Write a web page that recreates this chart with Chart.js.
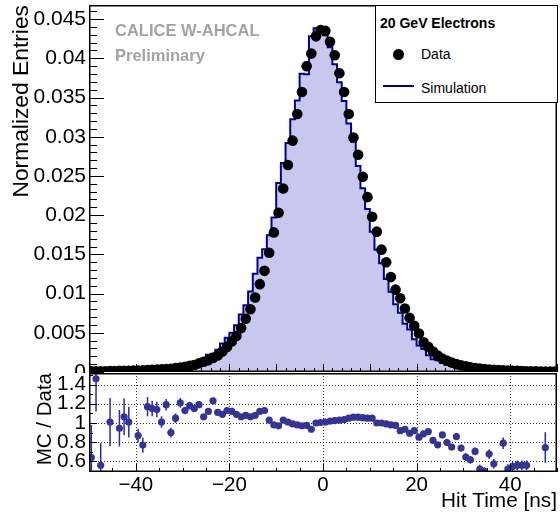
<!DOCTYPE html>
<html><head><meta charset="utf-8">
<script src="https://cdn.jsdelivr.net/npm/chart.js@4.4.1/dist/chart.umd.min.js"></script>
<style>
html,body{margin:0;padding:0;background:#fff;overflow:hidden}
#wrap{position:relative;width:560px;height:518px;font-family:"Liberation Sans",Arial,Helvetica,sans-serif;}
canvas{position:absolute;left:0;display:block}
#cTop{top:0}
#cBot{top:373px;background:#fff}
.t{position:absolute;white-space:nowrap;line-height:1}
#legend{position:absolute;left:375px;top:5px;width:183px;height:98px;box-sizing:border-box;border:1px solid #000;background:#fff}
</style></head><body>
<div id="wrap">
 <canvas id="cTop" width="560" height="373"></canvas>
 <canvas id="cBot" width="560" height="145"></canvas>
 <div class="t" style="left:115px;top:22px;font-size:16.5px;font-weight:bold;color:#a3a3a3">CALICE W-AHCAL</div>
 <div class="t" style="left:115px;top:47px;font-size:16.5px;font-weight:bold;color:#a3a3a3">Preliminary</div>
 <div id="legend">
  <div class="t" style="left:4px;top:9.5px;font-size:14px;font-weight:bold">20 GeV Electrons</div>
  <div style="position:absolute;left:17px;top:43px;width:10.5px;height:10.5px;border-radius:50%;background:#000"></div>
  <div class="t" id="lgData" style="left:45px;top:41px;font-size:14px">Data</div>
  <div style="position:absolute;left:7px;top:79px;width:31px;height:2px;background:#000099"></div>
  <div class="t" id="lgSim" style="left:45px;top:74.5px;font-size:14px">Simulation</div>
 </div>
</div>
<script>
Chart.defaults.font.family = '"Liberation Sans", Arial, Helvetica, sans-serif';
Chart.defaults.color = '#000';

// ---- data ----
const timeCenters = [-49.5,-48.5,-47.5,-46.5,-45.5,-44.5,-43.5,-42.5,-41.5,-40.5,
 -39.5,-38.5,-37.5,-36.5,-35.5,-34.5,-33.5,-32.5,-31.5,-30.5,
 -29.5,-28.5,-27.5,-26.5,-25.5,-24.5,-23.5,-22.5,-21.5,-20.5,
 -19.5,-18.5,-17.5,-16.5,-15.5,-14.5,-13.5,-12.5,-11.5,-10.5,
 -9.5,-8.5,-7.5,-6.5,-5.5,-4.5,-3.5,-2.5,-1.5,-0.5,
 0.5,1.5,2.5,3.5,4.5,5.5,6.5,7.5,8.5,9.5,
 10.5,11.5,12.5,13.5,14.5,15.5,16.5,17.5,18.5,19.5,
 20.5,21.5,22.5,23.5,24.5,25.5,26.5,27.5,28.5,29.5,
 30.5,31.5,32.5,33.5,34.5,35.5,36.5,37.5,38.5,39.5,
 40.5,41.5,42.5,43.5,44.5,45.5,46.5,47.5,48.5,49.5];
const binWidth = 1;

const dataEntries = [0.00008,0.00008,0.00009,0.0001,0.00011,0.00012,0.00014,0.00015,0.00016,0.00018,
 0.0002,0.00022,0.00025,0.00028,0.0003,0.00034,0.00038,0.00042,0.0005,0.00056,
 0.00065,0.00078,0.0009,0.0011,0.0013,0.0015,0.0018,0.0021,0.0026,0.0032,
 0.0039,0.0046,0.0056,0.0068,0.008,0.0095,0.0112,0.0129,0.0152,0.0178,
 0.0203,0.0234,0.0264,0.0295,0.0329,0.0357,0.039,0.0406,0.0428,0.0436,
 0.0435,0.0421,0.0404,0.0381,0.0357,0.0329,0.0299,0.0277,0.0249,0.0223,
 0.0198,0.0179,0.0156,0.014,0.0121,0.0105,0.0094,0.0081,0.0069,0.0059,
 0.0049,0.0038,0.0032,0.0026,0.0021,0.0017,0.00145,0.0012,0.001,0.00085,
 0.00072,0.0006,0.0005,0.00043,0.00037,0.00032,0.00028,0.00024,0.00021,0.00018,
 0.00016,0.00014,0.00012,0.0001,0.00009,0.00008,0.00007,0.00006,0.00005,0.00005];

const simEntries = [0.00005,0.00012,0.00005,0.00009,0.00011,0.00012,0.00013,0.00016,0.00016,0.00018,
 0.00017,0.00017,0.00029,0.00032,0.00034,0.00034,0.00045,0.00038,0.00053,0.00068,
 0.00073,0.00092,0.00104,0.00131,0.00138,0.00168,0.00221,0.00233,0.00283,0.00362,
 0.00437,0.00501,0.00596,0.00734,0.00852,0.01026,0.01254,0.01458,0.01566,0.01744,
 0.01969,0.0241,0.02666,0.0292,0.03224,0.03463,0.03803,0.03796,0.0428,0.04382,
 0.04394,0.04294,0.04141,0.03924,0.03695,0.03455,0.03169,0.02936,0.02627,0.02342,
 0.02079,0.0179,0.0156,0.01386,0.01186,0.01024,0.00865,0.00757,0.00616,0.00543,
 0.00417,0.00337,0.00292,0.00213,0.00162,0.00149,0.00116,0.0009,0.00086,0.00063,
 0.00046,0.00037,0.00035,0.00022,0.00018,0.00022,0.00016,0.00012,0.00017,0.00009,
 0.00009,0.00008,0.00007,0.00006,0.00004,0.00004,0.00003,0.00004,0.00003,0.00003];

const ratioValues = [0.64,1.46,0.56,null,1.01,null,0.945,1.065,1.01,null,
 0.87,0.77,1.17,1.15,1.14,1.01,1.19,0.90,1.05,1.21,
 1.13,1.18,1.15,1.19,1.065,1.12,1.23,1.11,1.09,1.13,
 1.12,1.09,1.065,1.08,1.065,1.08,1.12,1.13,1.03,0.98,
 0.97,1.03,1.01,0.99,0.98,0.97,0.975,0.935,1.0,1.005,
 1.01,1.02,1.025,1.03,1.035,1.05,1.06,1.06,1.055,1.05,
 1.05,1.0,1.0,0.99,0.98,0.975,0.92,0.935,0.893,0.92,
 0.852,0.887,0.911,0.818,0.773,0.876,0.797,0.749,0.859,0.739,
 0.645,0.617,0.704,0.52,0.496,0.676,0.576,null,0.79,0.52,
 0.546,0.56,0.56,0.56,null,null,null,0.745,null,null];

const ratioErrors = [0.34,0.34,0.23,null,0.25,null,0.19,0.19,0.16,null,
 0.07,0.08,0.1,0.08,0.08,0.06,0.06,0.05,0.05,0.05,
 0.04,0.04,0.035,0.03,0.03,0.03,0.025,0.025,0.02,0.02,
 0.02,0.015,0.015,0.015,0.01,0.01,0.01,0.01,0.01,0.01,
 0.01,0.01,0.005,0.005,0.005,0.005,0.005,0.005,0.005,0.005,
 0.005,0.005,0.005,0.005,0.005,0.005,0.005,0.005,0.01,0.01,
 0.01,0.01,0.01,0.01,0.01,0.01,0.015,0.015,0.015,0.015,
 0.02,0.02,0.02,0.025,0.025,0.03,0.03,0.03,0.035,0.035,
 0.04,0.04,0.04,0.045,0.045,0.05,0.05,null,0.06,0.05,
 0.05,0.05,0.05,0.05,null,null,null,0.16,null,null];

const yTicksTop = [0,0.005,0.01,0.015,0.02,0.025,0.03,0.035,0.04,0.045];
const yTicksRatio = [0.6,0.8,1,1.2,1.4];
const xTickLabels = [-40,-20,0,20,40];

// ---- derived tables for the library ----
const simSteps = timeCenters.map((t,i)=>({x:t-binWidth/2, y:simEntries[i]}));
simSteps.push({x:timeCenters[timeCenters.length-1]+binWidth/2, y:simEntries[simEntries.length-1]});
const dataPts = timeCenters.map((t,i)=>({x:t, y:dataEntries[i]}));
const ratioPts = timeCenters.map((t,i)=>({x:t, y:ratioValues[i]}));

function seg(ctx,x1,y1,x2,y2){ctx.beginPath();ctx.moveTo(x1,y1);ctx.lineTo(x2,y2);ctx.stroke();}
function noPad(s){s.paddingTop=0;s.paddingBottom=0;s.paddingLeft=0;s.paddingRight=0;}

const topFrame = {id:'topFrame', afterDatasetsDraw(chart){
  const {ctx, chartArea:a, scales:{x,y}} = chart;
  ctx.save(); ctx.strokeStyle='#000'; ctx.lineWidth=1;
  for(let v=-50; v<=50; v+=2){ const px=Math.round(x.getPixelForValue(v))+0.5; seg(ctx,px,a.bottom,px,a.bottom-(v%10===0?8:4)); }
  for(let k=0; k<=46; k++){ const py=Math.round(y.getPixelForValue(k*0.001))+0.5; seg(ctx,a.left,py,a.left+(k%5===0?15:8),py); }
  ctx.lineWidth=1.5; ctx.strokeRect(a.left+0.75,a.top+0.75,a.right-a.left-1.5,a.bottom-a.top-1.5);
  ctx.restore();
}};

const ratioDeco = {id:'ratioDeco',
 beforeDatasetsDraw(chart){
  const {ctx, chartArea:a, scales:{x,y}} = chart;
  ctx.save();
  ctx.strokeStyle='#333'; ctx.lineWidth=1; ctx.setLineDash([1,2]);
  xTickLabels.forEach(v=>{const px=Math.round(x.getPixelForValue(v))+0.5; seg(ctx,px,a.top,px,a.bottom);});
  yTicksRatio.forEach(v=>{const py=Math.round(y.getPixelForValue(v))+0.5; seg(ctx,a.left,py,a.right,py);});
  ctx.setLineDash([]);
  ctx.beginPath(); ctx.rect(a.left,a.top,a.right-a.left,a.bottom-a.top); ctx.clip();
  ctx.strokeStyle='#2b2ba6'; ctx.lineWidth=1.5;
  timeCenters.forEach((t,i)=>{const v=ratioValues[i], e=ratioErrors[i]; if(v==null||!e) return;
    const px=x.getPixelForValue(t); seg(ctx,px,y.getPixelForValue(v-e),px,y.getPixelForValue(v+e));});
  ctx.restore();
 },
 afterDatasetsDraw(chart){
  const {ctx, chartArea:a, scales:{x,y}} = chart;
  ctx.save(); ctx.strokeStyle='#000'; ctx.lineWidth=1;
  for(let v=-50; v<=50; v+=5){ const px=Math.round(x.getPixelForValue(v))+0.5; seg(ctx,px,a.bottom,px,a.bottom-(v%20===0?8:4)); }
  for(let k=5; k<=15; k++){ const py=Math.round(y.getPixelForValue(k*0.1))+0.5; seg(ctx,a.left,py,a.left+(k%2===0?8:4),py); }
  ctx.lineWidth=1.5; ctx.strokeRect(a.left+0.75,a.top+0.75,a.right-a.left-1.5,a.bottom-a.top-1.5);
  ctx.restore();
 }};

new Chart(document.getElementById('cTop'), {
 type:'scatter',
 data:{datasets:[
  {label:'Data', data:dataPts, showLine:false, pointRadius:5.3, pointHoverRadius:5.3, pointBackgroundColor:'#000', pointBorderWidth:0, clip:0, order:0},
  {type:'line', label:'Simulation', data:simSteps, stepped:'after', borderColor:'#000099', borderWidth:2, pointRadius:0, fill:'origin', backgroundColor:'#c8c8ee', clip:0, order:1}
 ]},
 options:{
  responsive:false, animation:false,
  layout:{autoPadding:false, padding:{top:5,right:3,left:0,bottom:1}},
  plugins:{legend:{display:false}, tooltip:{enabled:false}},
  scales:{
   x:{type:'linear', min:-50, max:50, display:false},
   y:{type:'linear', min:0, max:0.0468,
      afterFit(s){s.width=89; noPad(s);},
      afterBuildTicks(s){s.ticks=yTicksTop.map(v=>({value:v}));},
      grid:{display:false, drawTicks:false}, border:{display:false},
      ticks:{autoSkip:false, padding:3, font:{size:21}, color:'#000', callback:v=>String(+(+v).toFixed(3))},
      title:{display:true, text:'Normalized Entries', align:'end', color:'#000', font:{size:22.8}, padding:{top:8.5,bottom:0}}}
  }
 },
 plugins:[topFrame]
});

new Chart(document.getElementById('cBot'), {
 type:'scatter',
 data:{datasets:[
  {label:'MC / Data', data:ratioPts, showLine:false, pointRadius:3.6, pointHoverRadius:3.6, pointBackgroundColor:'#333399', pointBorderWidth:0, clip:0}
 ]},
 options:{
  responsive:false, animation:false,
  layout:{autoPadding:false, padding:{top:0,right:3,left:0,bottom:0}},
  plugins:{legend:{display:false}, tooltip:{enabled:false}},
  scales:{
   x:{type:'linear', min:-50, max:50,
      afterFit(s){s.height=46; noPad(s);},
      afterBuildTicks(s){s.ticks=xTickLabels.map(v=>({value:v}));},
      grid:{display:false, drawTicks:false}, border:{display:false},
      ticks:{autoSkip:false, maxRotation:0, padding:1, font:{size:20.5}, color:'#000', callback:v=>v<0?'\u2212'+Math.abs(v):String(v)},
      title:{display:true, text:'Hit Time [ns]', align:'end', color:'#000', font:{size:20.8}, padding:{top:0,bottom:4}}},
   y:{type:'linear', min:0.49, max:1.52,
      afterFit(s){s.width=89; noPad(s);},
      afterBuildTicks(s){s.ticks=yTicksRatio.map(v=>({value:v}));},
      grid:{display:false, drawTicks:false}, border:{display:false},
      ticks:{autoSkip:false, padding:3, font:{size:20.8}, color:'#000', callback:v=>String(+(+v).toFixed(1))},
      title:{display:true, text:'MC / Data', align:'end', color:'#000', font:{size:20.5}, padding:{top:33,bottom:0}}}
  }
 },
 plugins:[ratioDeco]
});
</script>
</body></html>
